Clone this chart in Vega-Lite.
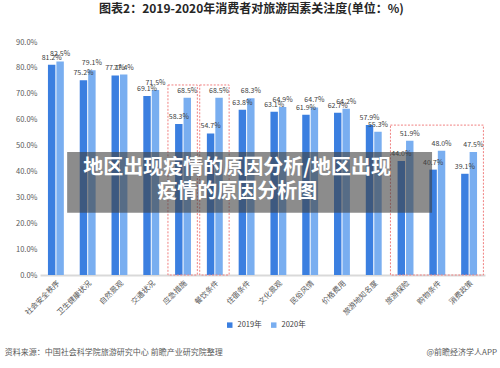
{
  "$schema": "https://vega.github.io/schema/vega-lite/v6.json",
  "width": 445,
  "height": 233,
  "autosize": {"type": "none"},
  "padding": {"left": 40, "top": 42, "right": 15, "bottom": 93},
  "background": "white",
  "config": {
    "font": "Noto Sans CJK SC",
    "view": {"stroke": null},
    "axisY": {"labelOverlap": false, "labelFontSize": 7.5, "labelColor": "#595959", "grid": false, "ticks": false, "domain": false, "labelPadding": 3, "title": null}
  },
  "title": {
    "text": "图表2：2019-2020年消费者对旅游因素关注度(单位：%)",
    "fontSize": 12,
    "fontWeight": "bold",
    "color": "#262626",
    "offset": 22,
    "dx": -11,
    "anchor": "middle"
  },
  "datasets": {
    "bars": [
      {"cat": "社会安全秩序", "year": "2019年", "value": 81.2},
      {"cat": "社会安全秩序", "year": "2020年", "value": 82.5},
      {"cat": "卫生健康状况", "year": "2019年", "value": 75.2},
      {"cat": "卫生健康状况", "year": "2020年", "value": 79.1},
      {"cat": "自然景观", "year": "2019年", "value": 77.1},
      {"cat": "自然景观", "year": "2020年", "value": 77.4},
      {"cat": "交通状况", "year": "2019年", "value": 69.1},
      {"cat": "交通状况", "year": "2020年", "value": 71.5},
      {"cat": "应急措施", "year": "2019年", "value": 58.3},
      {"cat": "应急措施", "year": "2020年", "value": 68.5},
      {"cat": "餐饮条件", "year": "2019年", "value": 54.7},
      {"cat": "餐饮条件", "year": "2020年", "value": 68.5},
      {"cat": "住宿条件", "year": "2019年", "value": 63.8},
      {"cat": "住宿条件", "year": "2020年", "value": 68.3},
      {"cat": "文化景观", "year": "2019年", "value": 63.1},
      {"cat": "文化景观", "year": "2020年", "value": 64.9},
      {"cat": "民俗风情", "year": "2019年", "value": 61.9},
      {"cat": "民俗风情", "year": "2020年", "value": 64.7},
      {"cat": "价格费用", "year": "2019年", "value": 62.7},
      {"cat": "价格费用", "year": "2020年", "value": 64.2},
      {"cat": "旅游地知名度", "year": "2019年", "value": 57.9},
      {"cat": "旅游地知名度", "year": "2020年", "value": 55.3},
      {"cat": "旅游保险", "year": "2019年", "value": 44.0},
      {"cat": "旅游保险", "year": "2020年", "value": 51.9},
      {"cat": "购物条件", "year": "2019年", "value": 40.7},
      {"cat": "购物条件", "year": "2020年", "value": 48.0},
      {"cat": "消费政策", "year": "2019年", "value": 39.1},
      {"cat": "消费政策", "year": "2020年", "value": 47.5}
    ],
    "boxes": [
      {"s": "应急措施", "e": "应急措施", "top": 73.4},
      {"s": "餐饮条件", "e": "餐饮条件", "top": 73.4},
      {"s": "旅游保险", "e": "消费政策", "top": 57.9}
    ],
    "overlay": [
      {"x1": 6.1, "x2": 88.1, "y1": 24.0, "y2": 47.5}
    ],
    "overlayText": [
      {"x": 44.3, "y": 41.3, "t": "地区出现疫情的原因分析/地区出现"},
      {"x": 44.3, "y": 32.1, "t": "疫情的原因分析图"}
    ],
    "footerLeft": [
      {"x": -7.9, "y": -30.1, "t": "资料来源：中国社会科学院旅游研究中心 前瞻产业研究院整理"}
    ],
    "footerRight": [
      {"x": 102.7, "y": -30.1, "t": "@前瞻经济学人APP"}
    ]
  },
  "layer": [
    {
      "layer": [
        {
          "data": {"name": "bars"},
          "mark": {"type": "bar"},
          "encoding": {
            "x": {
              "field": "cat", "type": "nominal",
              "scale": {
                "domain": ["社会安全秩序", "卫生健康状况", "自然景观", "交通状况", "应急措施", "餐饮条件", "住宿条件", "文化景观", "民俗风情", "价格费用", "旅游地知名度", "旅游保险", "购物条件", "消费政策"],
                "paddingInner": 0.5, "paddingOuter": 0.25
              },
              "axis": {
                "title": null, "labelAngle": -45, "labelFontSize": 7.5, "labelColor": "#595959",
                "ticks": false, "domainColor": "#d9d9d9", "domainWidth": 2, "labelPadding": 4,
                "labelAlign": "right", "labelBaseline": "top", "labelOverlap": false
              }
            },
            "xOffset": {"field": "year", "type": "nominal", "scale": {"paddingInner": 0.12}},
            "y": {
              "field": "value", "type": "quantitative",
              "scale": {"domain": [0, 90], "nice": false},
              "axis": {
                "values": [0, 10, 20, 30, 40, 50, 60, 70, 80, 90],
                "labelExpr": "format(datum.value, '.1f') + '%'"
              }
            },
            "color": {
              "field": "year", "type": "nominal",
              "scale": {"domain": ["2019年", "2020年"], "range": ["#3b7fe0", "#79aef0"]},
              "legend": {
                "title": null, "orient": "none", "legendX": 186, "legendY": 279, "direction": "horizontal",
                "symbolType": "square", "symbolSize": 30, "labelFontSize": 7.5,
                "labelColor": "#404040", "columnPadding": 8
              }
            }
          }
        },
        {
          "data": {"name": "bars"},
          "transform": [{"calculate": "format(datum.value, '.1f') + '%'", "as": "lbl"}],
          "mark": {"type": "text", "fontSize": 7, "color": "#404040", "dy": -7, "baseline": "middle"},
          "encoding": {
            "x": {"field": "cat", "type": "nominal"},
            "xOffset": {"field": "year", "type": "nominal"},
            "y": {
              "field": "value", "type": "quantitative",
              "axis": {
                "values": [0, 10, 20, 30, 40, 50, 60, 70, 80, 90],
                "labelExpr": "format(datum.value, '.1f') + '%'"
              }
            },
            "text": {"field": "lbl"}
          }
        },
        {
          "data": {"name": "boxes"},
          "mark": {"type": "rect", "fill": null, "stroke": "#f08080", "strokeDash": [2, 1.5], "strokeWidth": 1},
          "encoding": {
            "x": {"field": "s", "type": "nominal", "bandPosition": -0.45},
            "x2": {"field": "e", "bandPosition": 1.4},
            "y": {
              "field": "top", "type": "quantitative",
              "axis": {
                "values": [0, 10, 20, 30, 40, 50, 60, 70, 80, 90],
                "labelExpr": "format(datum.value, '.1f') + '%'"
              }
            },
            "y2": {"datum": 0}
          }
        }
      ]
    },
    {
      "layer": [
        {
          "data": {"name": "overlay"},
          "mark": {"type": "rect", "fill": "#404040", "opacity": 0.6},
          "encoding": {
            "x": {"field": "x1", "type": "quantitative", "scale": {"domain": [0, 100]}, "axis": null},
            "x2": {"field": "x2"},
            "y": {"field": "y1", "type": "quantitative", "scale": {"domain": [0, 90], "nice": false}, "axis": null},
            "y2": {"field": "y2"}
          }
        },
        {
          "data": {"name": "overlayText"},
          "mark": {"type": "text", "fontSize": 20, "fontWeight": "bold", "color": "white", "align": "center", "baseline": "middle"},
          "encoding": {
            "x": {"field": "x", "type": "quantitative"},
            "y": {"field": "y", "type": "quantitative"},
            "text": {"field": "t"}
          }
        },
        {
          "data": {"name": "footerLeft"},
          "mark": {"type": "text", "fontSize": 8, "color": "#595959", "baseline": "middle", "align": "left"},
          "encoding": {
            "x": {"field": "x", "type": "quantitative"},
            "y": {"field": "y", "type": "quantitative"},
            "text": {"field": "t"}
          }
        },
        {
          "data": {"name": "footerRight"},
          "mark": {"type": "text", "fontSize": 8, "color": "#595959", "baseline": "middle", "align": "right"},
          "encoding": {
            "x": {"field": "x", "type": "quantitative"},
            "y": {"field": "y", "type": "quantitative"},
            "text": {"field": "t"}
          }
        }
      ]
    }
  ],
  "resolve": {"scale": {"x": "independent", "y": "independent"}}
}
